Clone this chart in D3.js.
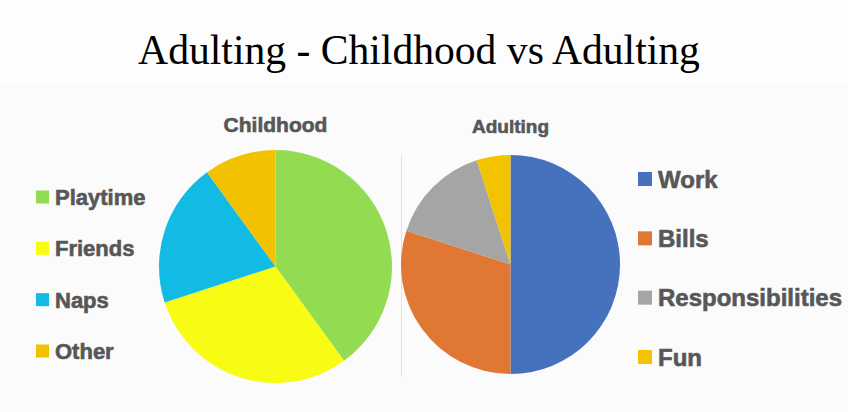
<!DOCTYPE html>
<html>
<head>
<meta charset="utf-8">
<script src="https://cdn.jsdelivr.net/npm/d3@7"></script>
<style>
  html, body { margin: 0; padding: 0; background: #fdfdfd; }
  svg { display: block; }
</style>
</head>
<body>
<div id="chart"></div>
<script>
const chartTitle = "Adulting - Childhood vs Adulting";

const childhoodLabels = ["Playtime", "Friends", "Naps", "Other"];
const childhoodValues = [40, 30, 20, 10];
const childhoodColors = ["#93db51", "#f8fc14", "#12bbe4", "#f2c200"];

const adultingLabels = ["Work", "Bills", "Responsibilities", "Fun"];
const adultingValues = [50, 30, 15, 5];
const adultingColors = ["#4571bd", "#e07733", "#a5a5a5", "#f4c300"];

const width = 848, height = 412;
const textColor = "#575757";

const svg = d3.select("#chart").append("svg")
  .attr("width", width)
  .attr("height", height);

// slide body is a touch greyer than the title strip
svg.append("rect").attr("width", width).attr("height", height).attr("fill", "#fdfdfd");
svg.append("rect").attr("y", 85).attr("width", width).attr("height", height - 85).attr("fill", "#fafbfa");

// main title, sized to the width it takes on the slide
const title = svg.append("text")
  .attr("x", 419).attr("y", 64)
  .attr("text-anchor", "middle")
  .attr("font-family", "'Liberation Serif', 'DejaVu Serif', serif")
  .attr("font-size", 40)
  .attr("fill", "#000")
  .text(chartTitle);
const tw = title.node().getComputedTextLength();
title.attr("font-size", 40 * 562 / tw);

// divider between the two pies
svg.append("line")
  .attr("x1", 401.5).attr("x2", 401.5)
  .attr("y1", 155).attr("y2", 377)
  .attr("stroke", "#e2e2e2").attr("stroke-width", 1);

const pie = d3.pie().sort(null).value(d => d.value);

// bold labels on the slide render heavier than plain bold, so add a thin stroke
function boldText(sel, size) {
  return sel
    .attr("font-family", "'Liberation Sans', Arial, sans-serif")
    .attr("font-weight", "bold")
    .attr("font-size", size)
    .attr("fill", textColor)
    .attr("stroke", textColor)
    .attr("stroke-width", 0.6);
}

function drawPie(labels, values, colors, cx, cy, r, name, nameSize, nameY) {
  const data = labels.map((l, i) => ({ label: l, value: values[i] }));
  const color = d3.scaleOrdinal().domain(labels).range(colors);
  const arc = d3.arc().innerRadius(0).outerRadius(r);
  const g = svg.append("g").attr("transform", `translate(${cx},${cy})`);
  g.selectAll("path")
    .data(pie(data))
    .enter().append("path")
    .attr("d", arc)
    .attr("fill", d => color(d.data.label));

  boldText(svg.append("text"), nameSize)
    .attr("x", cx).attr("y", nameY)
    .attr("text-anchor", "middle")
    .text(name);
  return color;
}

function drawLegend(labels, color, x, rowScale, box, fontSize) {
  const item = svg.selectAll(null)
    .data(labels)
    .enter().append("g")
    .attr("transform", d => `translate(${x},${rowScale(d)})`);
  item.append("rect")
    .attr("x", 0).attr("y", -box / 2)
    .attr("width", box).attr("height", box)
    .attr("fill", d => color(d));
  boldText(item.append("text"), fontSize)
    .attr("x", box + 6).attr("y", 0)
    .attr("dy", "0.36em")
    .text(d => d);
}

const childColor = drawPie(childhoodLabels, childhoodValues, childhoodColors,
  275.5, 266.5, 116.5, "Childhood", 21, 132);
const adultColor = drawPie(adultingLabels, adultingValues, adultingColors,
  510.5, 264.5, 109.5, "Adulting", 19, 133);

const leftRows = d3.scalePoint().domain(childhoodLabels).range([197, 351]);
const rightRows = d3.scalePoint().domain(adultingLabels).range([179, 357]);

drawLegend(childhoodLabels, childColor, 36, leftRows, 13, 22);
drawLegend(adultingLabels, adultColor, 638, rightRows, 14, 24);
</script>
</body>
</html>
